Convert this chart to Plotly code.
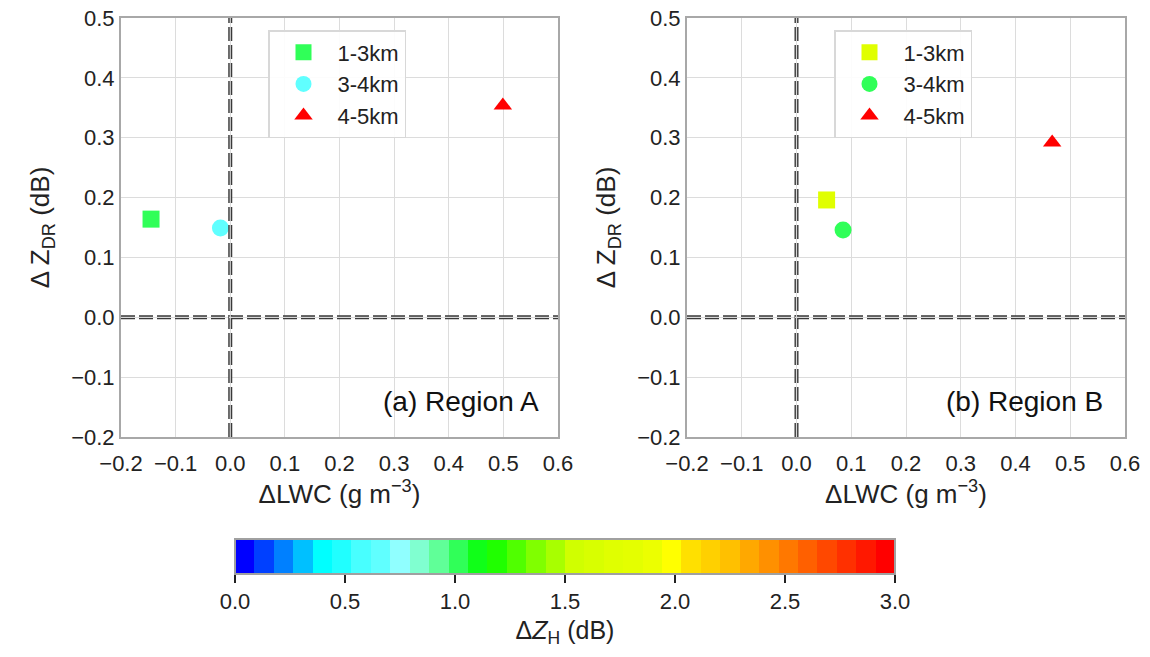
import plotly.graph_objects as go

# ---------------- data ----------------
layers = ["1-3km", "3-4km", "4-5km"]
symbols = ["square", "circle", "triangle-up"]

lwc_a = [-0.145, -0.018, 0.499]
zdr_a = [0.164, 0.149, 0.354]
zh_a = [1.05, 0.70, 2.98]

lwc_b = [0.055, 0.085, 0.467]
zdr_b = [0.196, 0.146, 0.292]
zh_b = [1.72, 1.05, 2.98]

cb_colors = [
    "#0000ff", "#0040ff", "#0080ff", "#00c0ff", "#00ffff", "#20ffff",
    "#48ffff", "#60ffff", "#90ffff", "#80ffd0", "#60ff98", "#30ff58",
    "#10ff18", "#20ff00", "#50ff00", "#80ff00", "#a8ff00", "#d0ff00",
    "#d8ff00", "#e0ff00", "#e4ff00", "#ecff00", "#ffff00", "#ffe000",
    "#ffd000", "#ffc000", "#ffa800", "#ff9000", "#ff7800", "#ff6000",
    "#ff4800", "#ff3000", "#ff1800", "#ff0000",
]
cb_min, cb_max = 0.0, 3.0
cb_ticks = [0.0, 0.5, 1.0, 1.5, 2.0, 2.5, 3.0]
x_ticks = [-0.2, -0.1, 0.0, 0.1, 0.2, 0.3, 0.4, 0.5, 0.6]
y_ticks = [-0.2, -0.1, 0.0, 0.1, 0.2, 0.3, 0.4, 0.5]

# discrete colorscale
n = len(cb_colors)
cscale = []
for i, c in enumerate(cb_colors):
    cscale.append([i / n, c])
    cscale.append([(i + 1) / n, c])


def value_color(v):
    k = int((v - cb_min) / (cb_max - cb_min) * n)
    return cb_colors[max(0, min(n - 1, k))]


FONT = "Liberation Sans, Arial, sans-serif"
TXT = "#222222"
fig = go.Figure()

for (lwc, zdr, zh, xa, ya, lg) in [
    (lwc_a, zdr_a, zh_a, "x", "y", "legend"),
    (lwc_b, zdr_b, zh_b, "x2", "y2", "legend2"),
]:
    for i, name in enumerate(layers):
        fig.add_trace(go.Scatter(
            x=[lwc[i]], y=[zdr[i]], mode="markers", name=name,
            xaxis=xa, yaxis=ya, legend=lg,
            marker=dict(symbol=symbols[i], size=17 if i < 2 else 16,
                        color=value_color(zh[i]), line=dict(width=0)),
        ))

# carrier trace for the colour bar
fig.add_trace(go.Scatter(
    x=[None], y=[None], mode="markers", showlegend=False, hoverinfo="skip",
    marker=dict(color=[cb_min], coloraxis="coloraxis"),
))

# dashed zero lines (double-line look)
for xr, yr in [("x", "y"), ("x2", "y2")]:
    for (w, col) in [(4, "#3a3a3a"), (1.2, "#d8d8d8")]:
        fig.add_shape(type="line", xref=xr, yref=f"{yr} domain", x0=0, x1=0, y0=0, y1=1,
                      line=dict(color=col, width=w, dash="14px,4px"), layer="above")
        fig.add_shape(type="line", xref=f"{xr} domain", yref=yr, x0=0, x1=1, y0=0, y1=0,
                      line=dict(color=col, width=w, dash="14px,4px"), layer="above")

axis_common = dict(
    showgrid=True, gridcolor="#dcdcdc", gridwidth=1,
    showline=True, linecolor="#a8a8a8", linewidth=2, mirror=True,
    zeroline=False, ticks="", automargin=False,
    tickfont=dict(size=22, color=TXT, family=FONT),
)
xkw = dict(axis_common, range=[-0.2, 0.6], tickvals=x_ticks,
           ticktext=[f"{v:.1f}".replace("-", "\u2212") for v in x_ticks],
           ticklabelstandoff=6,
           title=dict(text="\u0394LWC (g m<sup>\u22123</sup>)",
                      font=dict(size=26, family=FONT, color=TXT), standoff=9))
ykw = dict(axis_common, range=[-0.2, 0.5], tickvals=y_ticks,
           ticktext=[f"{v:.1f}".replace("-", "\u2212") for v in y_ticks],
           title=dict(text="\u0394 Z<sub>DR</sub> (dB)",
                      font=dict(size=26, family=FONT, color=TXT), standoff=14))

H = 657
legend_common = dict(
    xanchor="left", yanchor="top", y=(H - 30) / H,
    bordercolor="#d8d8d8", borderwidth=1.5, bgcolor="rgba(255,255,255,0.9)",
    font=dict(size=22, family=FONT, color=TXT), itemwidth=58, tracegroupgap=0,
)
fig.update_layout(
    width=1150, height=657,
    margin=dict(l=0, r=0, t=0, b=0, autoexpand=False),
    paper_bgcolor="white", plot_bgcolor="white",
    font=dict(family=FONT, color=TXT),
    xaxis=dict(xkw, domain=[121 / 1150, 558 / 1150], anchor="y"),
    yaxis=dict(ykw, domain=[(H - 437) / H, (H - 18) / H], anchor="x"),
    xaxis2=dict(xkw, domain=[687 / 1150, 1125 / 1150], anchor="y2"),
    yaxis2=dict(ykw, domain=[(H - 437) / H, (H - 18) / H], anchor="x2"),
    coloraxis=dict(
        colorscale=cscale, cmin=cb_min, cmax=cb_max,
        colorbar=dict(
            orientation="h", x=565 / 1150, xanchor="center",
            y=(H - 539) / H, yanchor="top",
            len=660 / 1150, lenmode="fraction", thickness=35,
            outlinecolor="#a0a0a0", outlinewidth=2,
            ticks="outside", ticklen=8, tickwidth=2, tickcolor=TXT,
            tickvals=cb_ticks, ticktext=[f"{v:.1f}" for v in cb_ticks],
            tickfont=dict(size=22, family=FONT, color=TXT),
            title=dict(text="\u0394<i>Z</i><sub>H</sub> (dB)", side="bottom",
                       font=dict(size=25, family=FONT, color=TXT)),
            xpad=0, ypad=0,
        ),
    ),
    legend=dict(legend_common, x=268 / 1150),
    legend2=dict(legend_common, x=834 / 1150),
    annotations=[
        dict(text="(a) Region A", xref="x domain", yref="y domain", x=0.96, y=0.085,
             xanchor="right", yanchor="middle", showarrow=False,
             font=dict(size=28, family=FONT, color="#111")),
        dict(text="(b) Region B", xref="x2 domain", yref="y2 domain", x=0.955, y=0.085,
             xanchor="right", yanchor="middle", showarrow=False,
             font=dict(size=28, family=FONT, color="#111")),
    ],
)

fig.write_html("out.html")
